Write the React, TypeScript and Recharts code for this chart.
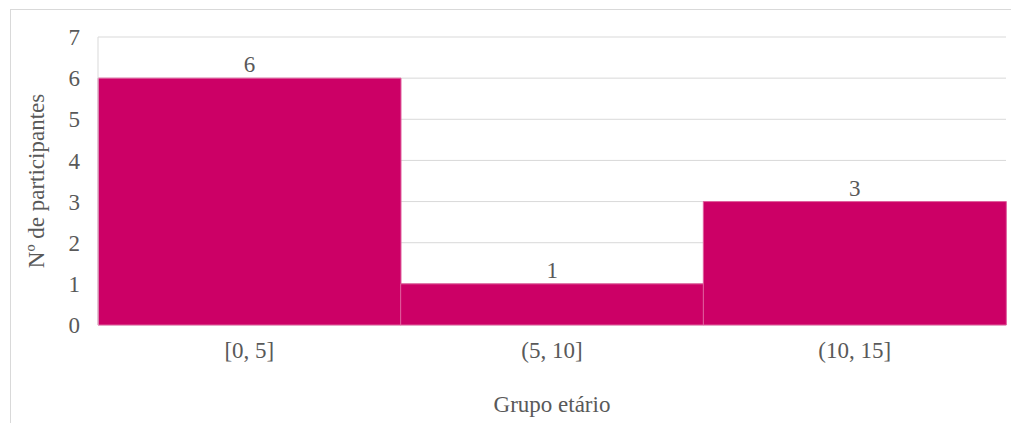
import { BarChart, Bar, XAxis, YAxis, CartesianGrid, LabelList } from 'recharts';

const categories = ['[0, 5]', '(5, 10]', '(10, 15]'];
const counts = [6, 1, 3];
const yTicks = [0, 1, 2, 3, 4, 5, 6, 7];

const data = categories.map((c, i) => ({ group: c, value: counts[i] }));

const FONT = '"Liberation Serif", "Times New Roman", serif';
const GREY = '#595959';
const FS = 23;

export default function App() {
  return (
    <div style={{ position: 'absolute', left: 0, top: 0, width: 1011, height: 423, overflow: 'hidden', background: '#fff', fontFamily: FONT }}>
      {/* chart frame, runs off the right and bottom like the source */}
      <div style={{ position: 'absolute', left: 10, top: 9, width: 1030, height: 440, border: '1px solid #d9d9d9' }} />
      <div style={{ position: 'absolute', left: 0, top: 0 }}>
        <BarChart
          width={1011}
          height={423}
          data={data}
          margin={{ top: 37, right: 5, bottom: 8, left: 0 }}
          barCategoryGap={0}
          style={{ fontFamily: FONT }}
        >
          <CartesianGrid vertical={false} stroke="#d9d9d9" />
          <XAxis
            dataKey="group"
            height={90}
            tickLine={false}
            axisLine={false}
            tickSize={0}
            tickMargin={17}
            tick={{ fill: GREY, fontSize: FS, style: { fontFamily: FONT } }}
            label={{ value: 'Grupo etário', position: 'insideBottom', offset: 3, fill: GREY, fontSize: FS, style: { fontFamily: FONT } }}
          />
          <YAxis
            width={98}
            domain={[0, 7]}
            ticks={yTicks}
            interval={0}
            tickLine={false}
            axisLine={{ stroke: '#d9d9d9' }}
            tickSize={0}
            tickMargin={18}
            tick={{ fill: GREY, fontSize: FS, style: { fontFamily: FONT } }}
            label={{
              content: () => (
                <text
                  x={39}
                  y={181}
                  transform="rotate(-90, 39, 181)"
                  textAnchor="middle"
                  dominantBaseline="middle"
                  fill={GREY}
                  fontSize={FS}
                  style={{ fontFamily: FONT }}
                >
                  Nº de participantes
                </text>
              ),
            }}
          />
          <Bar dataKey="value" fill="#CC0066" stroke="#e0609e" strokeWidth={1} isAnimationActive={false}>
            <LabelList dataKey="value" position="top" offset={6} fill={GREY} fontSize={FS} style={{ fontFamily: FONT }} />
          </Bar>
        </BarChart>
      </div>
    </div>
  );
}
